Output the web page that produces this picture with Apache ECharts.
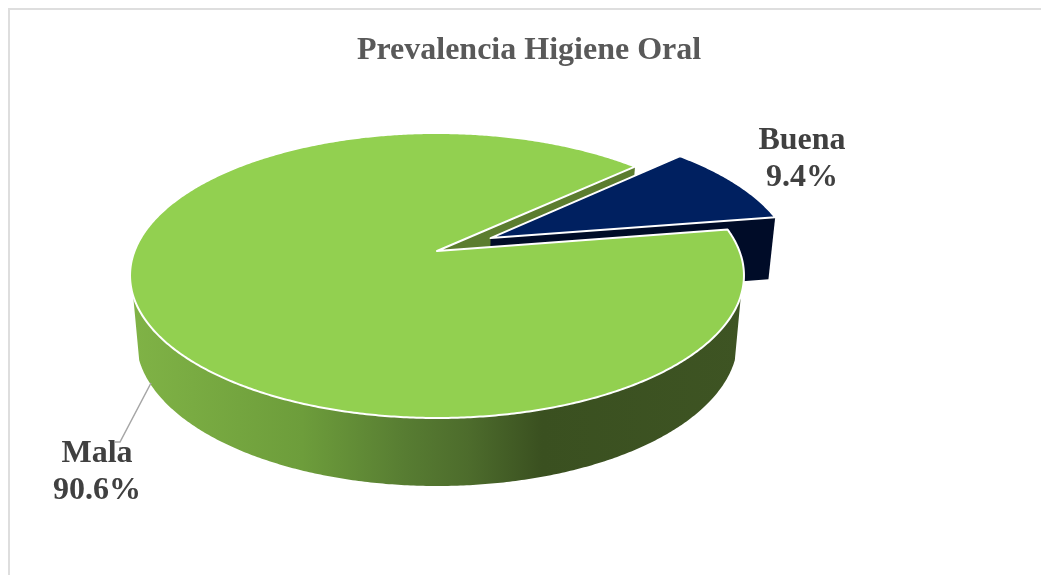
<!DOCTYPE html>
<html>
<head>
<meta charset="utf-8">
<script src="https://cdn.jsdelivr.net/npm/echarts@6/dist/echarts.min.js"></script>
<style>
  html, body { margin: 0; padding: 0; background: #ffffff; }
  #chart { width: 1041px; height: 575px; }
</style>
</head>
<body>
<div id="chart"></div>
<script>
// Oral hygiene prevalence, percentage of each category
const chartTitle = 'Prevalencia Higiene Oral';
const categories = ['Buena', 'Mala'];
const values = [9.4, 90.6];

// Slice colours: top face, inner wall
const topColors = ['#002060', '#92d050'];
const wallColors = ['#000c28', '#5c7d2f'];

// Perspective model of the tilted disc
const CX = 437, CY = 251;
const SCALE_X = 302.4, SCALE_Y = 138.3, TILT = 0.1719;
const DEPTH = 63.15, DEPTH_TILT = 0.0713, TAPER = 0.98;
const FIRST_ANGLE = 43;
const EXPLODE = [[0.18, -0.095], [0, 0]];

function project(x, y, lower) {
  const w = 1 - TILT * y;
  let sx = SCALE_X * x / w;
  let sy = SCALE_Y * y / w;
  if (lower) {
    sx *= TAPER;
    sy += DEPTH / (1 - DEPTH_TILT * y);
  }
  return [CX + sx, CY + sy];
}

// Angular span of each slice, running clockwise from FIRST_ANGLE
const total = values.reduce((a, b) => a + b, 0);
let cursor = FIRST_ANGLE;
const spans = values.map(v => {
  const from = cursor;
  cursor -= v / total * 360;
  return [from, cursor];
});

function rim(i, lower, keep) {
  const [from, to] = spans[i];
  const [ox, oy] = EXPLODE[i];
  const steps = Math.ceil(Math.abs(from - to) * 2);
  const pts = [];
  for (let s = 0; s <= steps; s++) {
    const a = (from + (to - from) * s / steps) * Math.PI / 180;
    const x = Math.cos(a), y = -Math.sin(a);
    if (!keep || keep(y)) pts.push(project(ox + x, oy + y, lower));
  }
  return pts;
}

function topFace(i) {
  const [ox, oy] = EXPLODE[i];
  return [project(ox, oy, false)].concat(rim(i, false));
}

// Vertical wall below the closing edge of a slice
function wall(i) {
  const [ox, oy] = EXPLODE[i];
  const a = spans[i][1] * Math.PI / 180;
  const ex = ox + Math.cos(a), ey = oy - Math.sin(a);
  return [
    project(ox, oy, false), project(ex, ey, false),
    project(ex, ey, true), project(ox, oy, true)
  ];
}

const rimGradient = new echarts.graphic.LinearGradient(130, 0, 745, 0, [
  { offset: 0, color: '#80b346' },
  { offset: 0.28, color: '#6d9d3b' },
  { offset: 0.45, color: '#577c32' },
  { offset: 0.55, color: '#4d6c2c' },
  { offset: 0.67, color: '#3a5020' },
  { offset: 1, color: '#3e5423' }
], true);

// Back-to-front painting order of the faces
const paintOrder = [
  { slice: 1, face: 'wall' },
  { slice: 0, face: 'wall' },
  { slice: 0, face: 'top' },
  { slice: 1, face: 'rim' },
  { slice: 1, face: 'top' }
];

function renderFace(params) {
  const { slice, face } = paintOrder[params.dataIndex];
  const edge = { stroke: '#ffffff', lineWidth: 2, lineJoin: 'round' };
  if (face === 'top') {
    return { type: 'polygon', shape: { points: topFace(slice) },
      style: Object.assign({ fill: topColors[slice] }, edge) };
  }
  if (face === 'wall') {
    return { type: 'polygon', shape: { points: wall(slice) },
      style: { fill: wallColors[slice] } };
  }
  // The band only needs the part of the rim facing the viewer
  const front = y => y >= 0.3;
  const upper = rim(slice, false, front);
  const lower = rim(slice, true, front).reverse();
  return { type: 'polygon', shape: { points: upper.concat(lower) },
    style: { fill: rimGradient } };
}

const labelStyle = {
  font: 'bold 32px "Liberation Serif", serif',
  fill: '#404040',
  align: 'center',
  verticalAlign: 'middle',
  lineHeight: 37
};
const labelAnchors = [[802, 159], [97, 472]];

function renderLabel(params) {
  const i = params.dataIndex;
  const children = [{
    type: 'text',
    style: Object.assign({
      text: categories[i] + '\n' + values[i].toFixed(1) + '%',
      x: labelAnchors[i][0], y: labelAnchors[i][1]
    }, labelStyle)
  }];
  if (i === 1) {
    children.unshift({
      type: 'polyline',
      shape: { points: [[151, 383], [120, 442], [115, 442]] },
      style: { stroke: '#a6a6a6', lineWidth: 1.5, fill: null }
    });
  }
  return { type: 'group', children };
}

const chart = echarts.init(document.getElementById('chart'), null, { renderer: 'canvas' });
chart.setOption({
  animation: false,
  backgroundColor: '#ffffff',
  title: {
    text: chartTitle,
    left: 524, top: 30,
    textAlign: 'center',
    textStyle: { fontFamily: '"Liberation Serif", serif', fontSize: 32, fontWeight: 'bold', color: '#595959' }
  },
  graphic: [{
    type: 'polyline',
    silent: true,
    shape: { points: [[9, 575], [9, 9], [1041, 9]] },
    style: { stroke: '#dedede', lineWidth: 2, fill: null }
  }],
  series: [
    { type: 'custom', coordinateSystem: 'none', silent: true, renderItem: renderFace, data: paintOrder.map(p => values[p.slice]) },
    { type: 'custom', coordinateSystem: 'none', silent: true, renderItem: renderLabel, data: values, z: 3 }
  ]
});
</script>
</body>
</html>
